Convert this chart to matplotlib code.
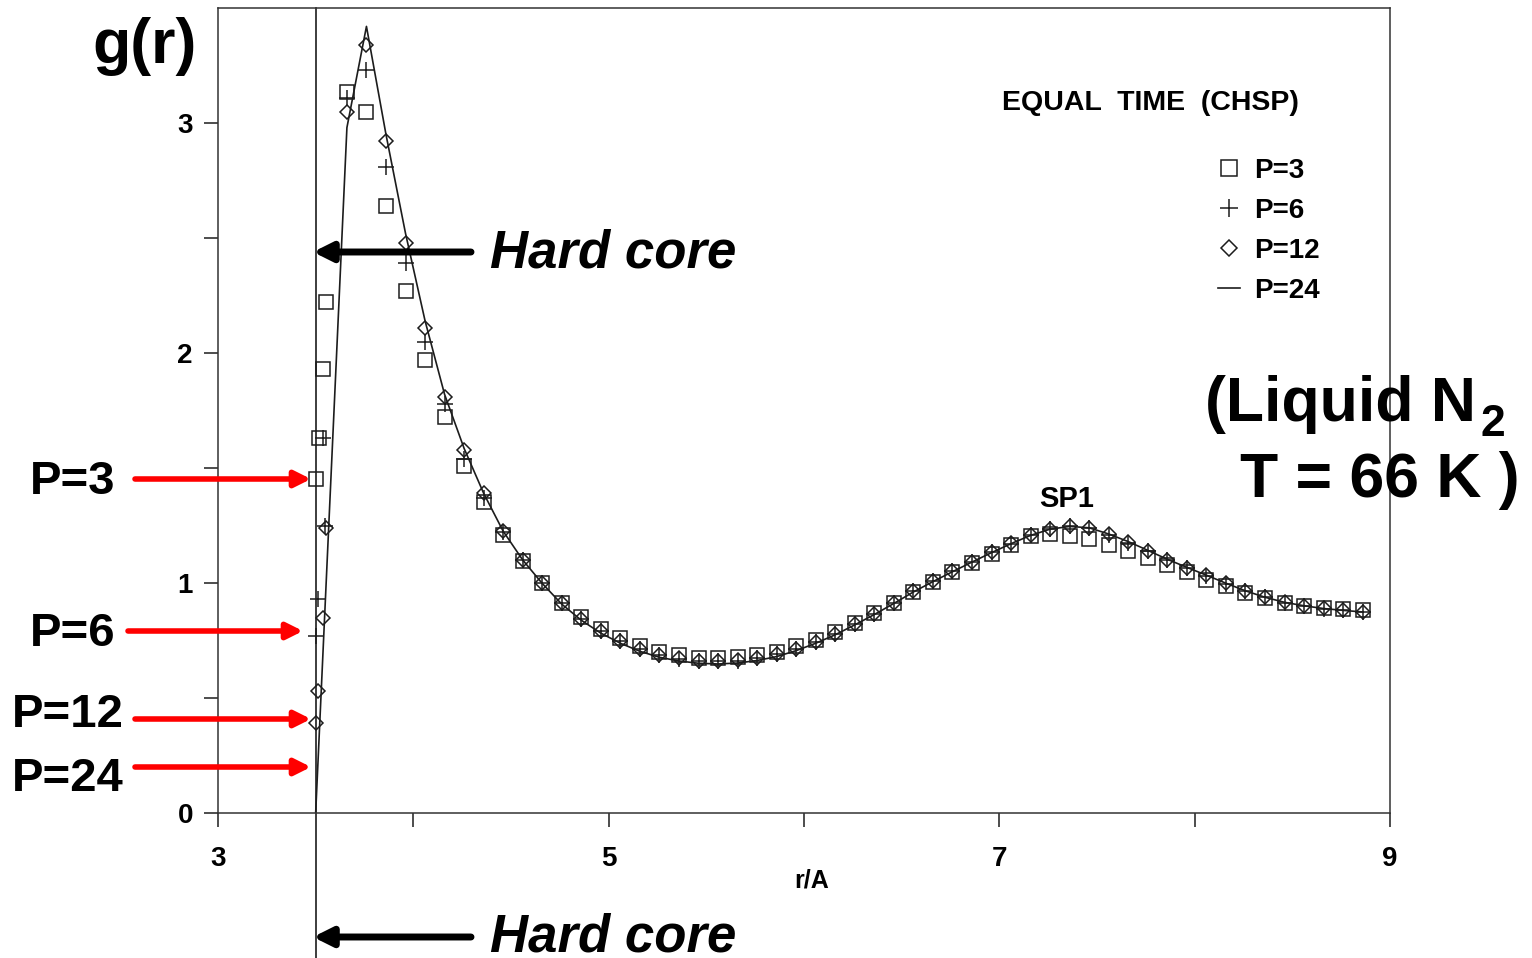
import matplotlib
matplotlib.use("Agg")
import matplotlib.pyplot as plt

plt.rcParams['font.family'] = ['Liberation Sans', 'DejaVu Sans']

# common r grid (Angstrom) for the main part of the curves
r_grid = [3.66, 3.76, 3.86, 3.96, 4.06, 4.16, 4.26, 4.36, 4.46, 4.56,
          4.66, 4.76, 4.86, 4.96, 5.06, 5.16, 5.26, 5.36, 5.46, 5.56,
          5.66, 5.76, 5.86, 5.96, 6.06, 6.16, 6.26, 6.36, 6.46, 6.56,
          6.66, 6.76, 6.86, 6.96, 7.06, 7.16, 7.26, 7.36, 7.46, 7.56,
          7.66, 7.76, 7.86, 7.96, 8.06, 8.16, 8.26, 8.36, 8.46, 8.56,
          8.66, 8.76, 8.86]

# P=3 (squares)
r3_core = [3.504, 3.518, 3.538, 3.555]
g3_core = [1.45, 1.63, 1.93, 2.22]
g3 = [3.135, 3.05, 2.64, 2.27, 1.97, 1.72, 1.51, 1.35, 1.21, 1.095,
      1.0, 0.915, 0.852, 0.80, 0.76, 0.727, 0.70, 0.685, 0.675, 0.674,
      0.677, 0.688, 0.70, 0.725, 0.752, 0.785, 0.827, 0.868, 0.912, 0.962,
      1.005, 1.048, 1.088, 1.128, 1.165, 1.204, 1.214, 1.204, 1.19, 1.165,
      1.139, 1.107, 1.08, 1.05, 1.015, 0.985, 0.958, 0.935, 0.915, 0.902,
      0.892, 0.886, 0.882]

# P=6 (plus)
r6_core = [3.503, 3.513, 3.538, 3.547]
g6_core = [0.77, 0.93, 1.63, 1.25]
g6 = [3.11, 3.23, 2.81, 2.39, 2.05, 1.78, 1.54, 1.37, 1.22, 1.10,
      1.0, 0.912, 0.845, 0.79, 0.748, 0.714, 0.688, 0.671, 0.661, 0.659,
      0.663, 0.674, 0.69, 0.714, 0.744, 0.78, 0.822, 0.866, 0.914, 0.964,
      1.008, 1.051, 1.092, 1.133, 1.171, 1.207, 1.234, 1.246, 1.238, 1.21,
      1.176, 1.138, 1.10, 1.066, 1.032, 0.997, 0.964, 0.937, 0.915, 0.901,
      0.889, 0.881, 0.875]

# P=12 (diamonds)
r12_core = [3.503, 3.513, 3.538, 3.554]
g12_core = [0.39, 0.53, 0.85, 1.24]
g12 = [3.05, 3.34, 2.92, 2.48, 2.11, 1.81, 1.58, 1.39, 1.225, 1.10,
       1.0, 0.912, 0.845, 0.79, 0.748, 0.714, 0.688, 0.672, 0.662, 0.66,
       0.664, 0.675, 0.69, 0.715, 0.745, 0.78, 0.822, 0.866, 0.914, 0.965,
       1.009, 1.052, 1.093, 1.134, 1.172, 1.208, 1.235, 1.248, 1.24, 1.212,
       1.178, 1.14, 1.10, 1.067, 1.033, 0.998, 0.965, 0.938, 0.916, 0.902,
       0.89, 0.882, 0.876]

# P=24 (solid line)
r24_core = [3.50]
g24_core = [0.0]
g24 = [2.98, 3.42, 2.95, 2.52, 2.14, 1.82, 1.585, 1.39, 1.225, 1.10,
       0.998, 0.908, 0.838, 0.782, 0.738, 0.703, 0.677, 0.661, 0.651, 0.648,
       0.652, 0.663, 0.68, 0.706, 0.738, 0.775, 0.818, 0.863, 0.911, 0.961,
       1.006, 1.049, 1.091, 1.132, 1.171, 1.207, 1.234, 1.246, 1.24, 1.213,
       1.18, 1.142, 1.103, 1.068, 1.034, 0.999, 0.966, 0.938, 0.916, 0.901,
       0.889, 0.881, 0.874]

r_core = 3.5  # hard core radius
x_ticks = [3, 4, 5, 6, 7, 8, 9]
x_labels = ['3', '', '5', '', '7', '', '9']
y_ticks = [0, 0.5, 1, 1.5, 2, 2.5, 3]
y_labels = ['0', '', '1', '', '2', '', '3']

ink = '#1c1c1c'
W, H = 1532, 958

fig = plt.figure(figsize=(W / 100, H / 100), dpi=100)
ax = fig.add_axes([218 / W, 1 - 813 / H, (1390 - 218) / W, (813 - 8) / H])

ax.plot(r3_core + r_grid, g3_core + g3, ls='none', marker='s', ms=9.5,
        mfc='none', mec=ink, mew=1.1, label='P=3')
ax.plot(r6_core + r_grid, g6_core + g6, ls='none', marker='+', ms=11,
        mec=ink, mew=1.1, label='P=6')
ax.plot(r12_core + r_grid, g12_core + g12, ls='none', marker='D', ms=7.5,
        mfc='none', mec=ink, mew=1.1, label='P=12')
ax.plot(r24_core + r_grid, g24_core + g24, '-', color=ink, lw=1.2, label='P=24')

# hard core line, runs past the bottom of the axes
ax.axvline(r_core, ymin=-0.18, ymax=1, color=ink, lw=1.2, clip_on=False)

ax.set_xlim(3, 9)
ax.set_ylim(0, 3.5)
ax.set_xticks(x_ticks)
ax.set_xticklabels(x_labels)
ax.set_yticks(y_ticks)
ax.set_yticklabels(y_labels)
ax.tick_params(direction='out', length=10, width=1.1, color=ink, labelsize=20)
ax.tick_params(axis='x', pad=14)
ax.tick_params(axis='y', pad=8)
for lbl in ax.get_xticklabels() + ax.get_yticklabels():
    lbl.set_fontweight('bold')
for sp in ax.spines.values():
    sp.set_linewidth(1.1)
    sp.set_color('#333333')

ax.text(7.344, 1.365, 'SP1', fontsize=21, fontweight='bold', ha='center', va='center')

leg = ax.legend(loc='upper left', bbox_to_anchor=(1218 / W, 1 - 158 / H),
                bbox_transform=fig.transFigure, frameon=False, numpoints=1,
                handlelength=0.8, handletextpad=0.5, labelspacing=0.5,
                borderpad=0, borderaxespad=0, markerscale=1.15,
                prop=dict(weight='bold', size=20))

def px(x, y):
    return x, H - y

fig.text(1002 / W, 1 - 103 / H, 'EQUAL  TIME  (CHSP)', fontsize=20.5,
         fontweight='bold', ha='left', va='center')
fig.text(92 / W, 1 - 47 / H, 'g(r)', fontsize=45, fontweight='bold',
         ha='left', va='center')
fig.text(812 / W, 1 - 880 / H, 'r/A', fontsize=18, fontweight='bold',
         ha='center', va='center')

fig.text(1205 / W, 1 - 404 / H, '(Liquid N', fontsize=45, fontweight='bold',
         ha='left', va='center')
fig.text(1480 / W, 1 - 424 / H, '2', fontsize=32, fontweight='bold',
         ha='left', va='center')
fig.text(1240 / W, 1 - 481 / H, 'T = 66 K )', fontsize=45, fontweight='bold',
         ha='left', va='center')

# hard core arrows
for yy in [252, 937]:
    ax.annotate('', xy=px(313, yy), xytext=px(471, yy),
                xycoords='figure pixels', textcoords='figure pixels',
                arrowprops=dict(arrowstyle='-|>', lw=5, color='black',
                                mutation_scale=28, shrinkA=0, shrinkB=0))
    fig.text(490 / W, 1 - (yy + 1) / H, 'Hard core', fontsize=38,
             fontweight='bold', fontstyle='italic', ha='left', va='center')

# P labels with red arrows
p_labels = ['P=3', 'P=6', 'P=12', 'P=24']
p_text_x = [30, 30, 12, 12]
p_text_y = [482, 634, 715, 779]
p_arrow_y = [479, 631, 719, 767]
p_arrow_x = [(135, 311), (128, 303), (135, 311), (135, 311)]
for lab, tx, ty, ay, (x0, x1) in zip(p_labels, p_text_x, p_text_y, p_arrow_y, p_arrow_x):
    fig.text(tx / W, 1 - ty / H, lab, fontsize=34, fontweight='bold',
             ha='left', va='center')
    ax.annotate('', xy=px(x1, ay), xytext=px(x0, ay),
                xycoords='figure pixels', textcoords='figure pixels',
                arrowprops=dict(arrowstyle='-|>', lw=4, color='#ff0000',
                                mutation_scale=24, shrinkA=0, shrinkB=0))

fig.savefig('out.png', dpi=100)
